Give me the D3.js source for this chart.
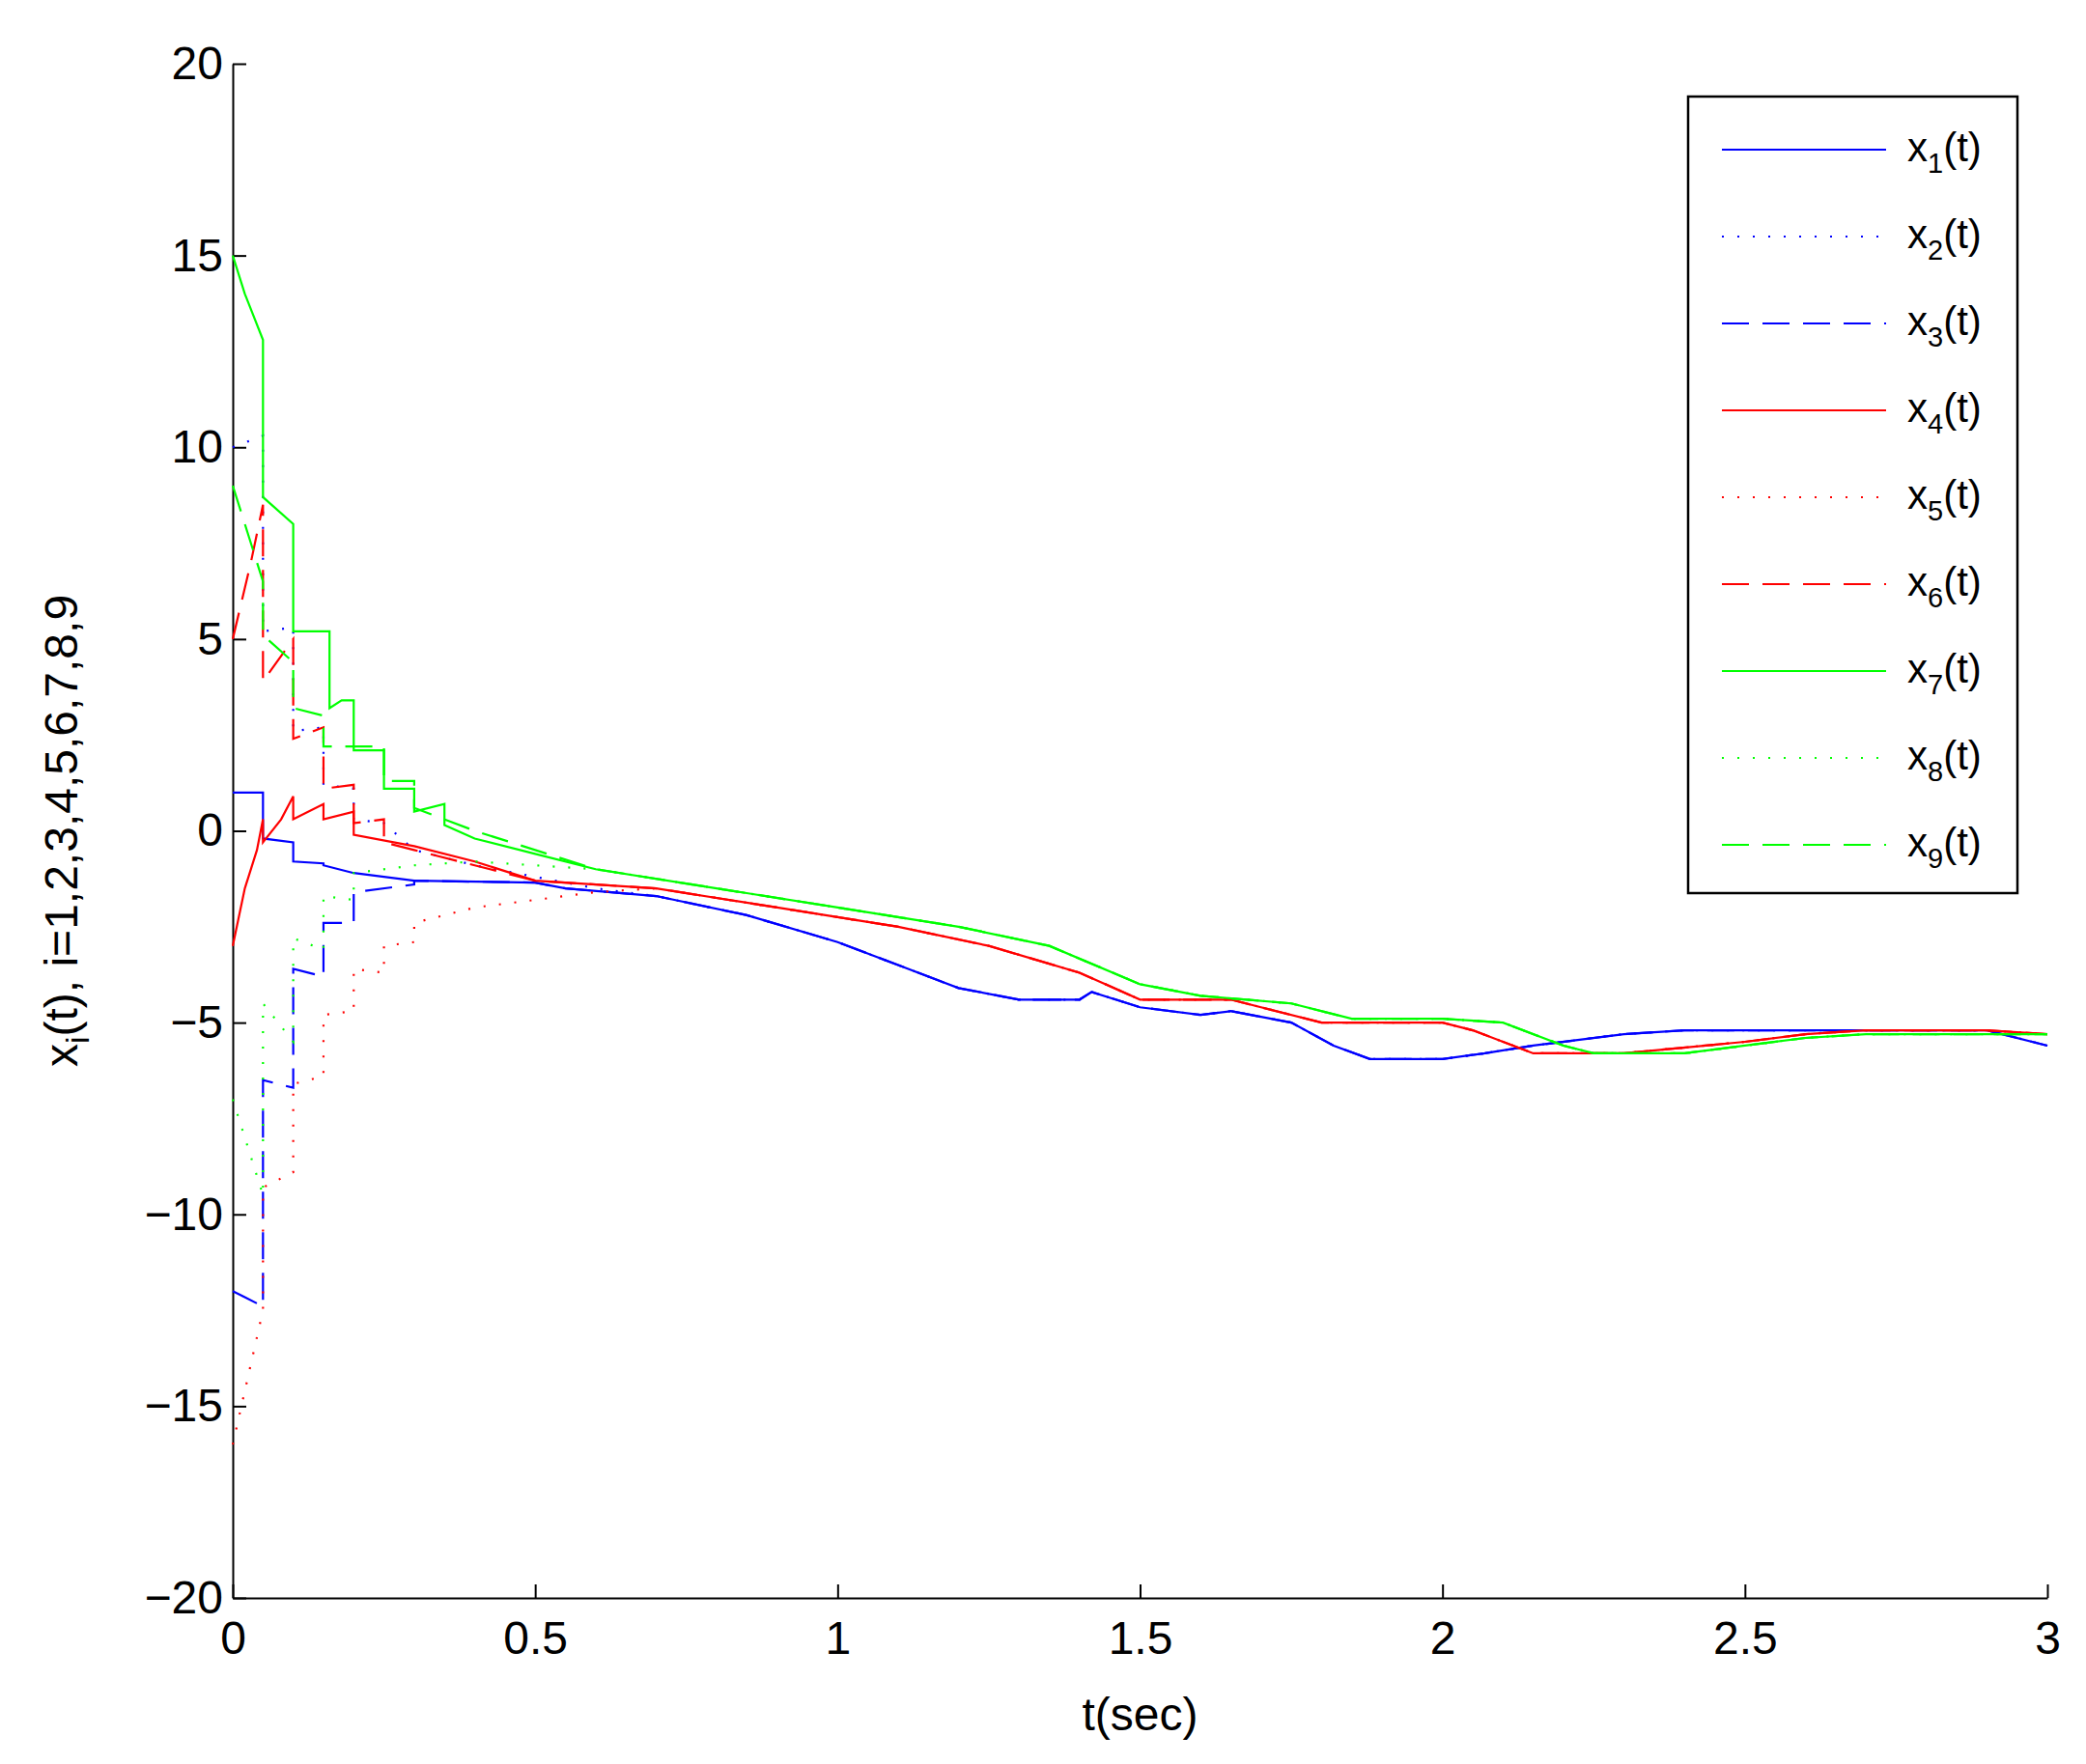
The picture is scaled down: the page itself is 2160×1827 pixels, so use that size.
<!DOCTYPE html>
<html><head><meta charset="utf-8">
<script src="https://cdn.jsdelivr.net/npm/d3@7"></script>
<style>body{margin:0;background:#fff}text{font-family:"Liberation Sans",Arial,sans-serif}</style>
</head><body>
<script>
// [t, x] pairs; repeated t gives the vertical jumps
var blueTail = [[0.3,-1.3],[0.5,-1.35],[0.55,-1.5],[0.7,-1.7],[0.85,-2.2],[1.0,-2.9],[1.1,-3.5],[1.2,-4.1],[1.3,-4.4],[1.4,-4.4],[1.42,-4.2],[1.5,-4.6],[1.6,-4.8],[1.65,-4.7],[1.75,-5.0],[1.82,-5.6],[1.88,-5.95],[2.0,-5.95],[2.07,-5.8],[2.15,-5.6],[2.3,-5.3],[2.4,-5.2],[2.9,-5.2],[3.0,-5.6]];
var redTail = [[0.5,-1.3],[0.7,-1.5],[0.9,-2.0],[1.1,-2.5],[1.25,-3.0],[1.4,-3.7],[1.5,-4.4],[1.65,-4.4],[1.7,-4.6],[1.8,-5.0],[2.0,-5.0],[2.05,-5.2],[2.15,-5.8],[2.3,-5.8],[2.5,-5.5],[2.6,-5.3],[2.7,-5.2],[2.9,-5.2],[3.0,-5.3]];
var greenTail = [[0.6,-1.0],[0.8,-1.5],[1.0,-2.0],[1.2,-2.5],[1.35,-3.0],[1.5,-4.0],[1.6,-4.3],[1.75,-4.5],[1.85,-4.9],[2.0,-4.9],[2.1,-5.0],[2.2,-5.6],[2.25,-5.8],[2.4,-5.8],[2.5,-5.6],[2.6,-5.4],[2.7,-5.3],[3.0,-5.3]];

var x1 = [[0,1],[0.05,1],[0.05,-0.2],[0.1,-0.3],[0.1,-0.8],[0.15,-0.85],[0.15,-0.9],[0.2,-1.1],[0.25,-1.2]].concat(blueTail);
var x2 = [[0,10],[0.05,10.3],[0.05,5.2],[0.1,5.3],[0.1,2.6],[0.15,2.7],[0.15,1.2],[0.2,1.1],[0.2,0.3],[0.25,0.2],[0.3,-0.5],[0.4,-0.9],[0.5,-1.2],[0.6,-1.5]].concat(blueTail.slice(3));
var x3 = [[0,-12],[0.05,-12.4],[0.05,-6.5],[0.1,-6.7],[0.1,-3.6],[0.15,-3.8],[0.15,-2.4],[0.2,-2.4],[0.2,-1.6],[0.3,-1.4]].concat(blueTail);
var x4 = [[0,-3],[0.02,-1.5],[0.04,-0.5],[0.05,0.3],[0.05,-0.3],[0.08,0.3],[0.1,0.9],[0.1,0.3],[0.15,0.7],[0.15,0.3],[0.2,0.5],[0.2,-0.1],[0.3,-0.4],[0.4,-0.8]].concat(redTail);
var x5 = [[0,-16],[0.05,-12.5],[0.05,-9.3],[0.1,-8.9],[0.1,-6.6],[0.15,-6.4],[0.15,-4.8],[0.2,-4.7],[0.2,-3.6],[0.25,-3.7],[0.25,-3.0],[0.3,-2.9],[0.3,-2.4],[0.4,-2.0],[0.5,-1.8],[0.6,-1.6],[0.7,-1.5]].concat(redTail.slice(2));
var x6 = [[0,5],[0.03,7],[0.05,8.5],[0.05,3.9],[0.1,5.0],[0.1,2.4],[0.15,2.7],[0.15,1.1],[0.2,1.2],[0.2,0.2],[0.25,0.3],[0.25,-0.3],[0.3,-0.5],[0.4,-0.9]].concat(redTail);
var x7 = [[0,15],[0.02,14],[0.05,12.8],[0.05,8.7],[0.1,8.0],[0.1,5.2],[0.16,5.2],[0.16,3.2],[0.18,3.4],[0.2,3.4],[0.2,2.1],[0.25,2.1],[0.25,1.1],[0.3,1.1],[0.3,0.5],[0.35,0.7],[0.35,0.15],[0.4,-0.2],[0.5,-0.6]].concat(greenTail);
var x8 = [[0,-7],[0.03,-8.5],[0.05,-9.5],[0.05,-4.5],[0.1,-5.5],[0.1,-2.8],[0.15,-3.1],[0.15,-1.7],[0.2,-1.8],[0.2,-1.1],[0.3,-0.9],[0.4,-0.8],[0.5,-0.9]].concat(greenTail);
var x9 = [[0,9],[0.02,8],[0.05,6.5],[0.05,5.1],[0.1,4.4],[0.1,3.2],[0.15,3.0],[0.15,2.2],[0.25,2.2],[0.25,1.3],[0.3,1.3],[0.3,0.6],[0.4,0.0],[0.5,-0.5]].concat(greenTail);

var seriesNames = ["x1","x2","x3","x4","x5","x6","x7","x8","x9"];
var seriesData = [x1,x2,x3,x4,x5,x6,x7,x8,x9];
var colors = ["#0000ff","#0000ff","#0000ff","#ff0000","#ff0000","#ff0000","#00ff00","#00ff00","#00ff00"];
var dashes = [null,"2,14",  "28,14", null,"2,14","28,14", null,"2,14","28,14"];
var xTicks = [0,0.5,1,1.5,2,2.5,3];
var yTicks = [-20,-15,-10,-5,0,5,10,15,20];

var W = 2160, H = 1827, L = 241, R = 2120, T = 66, B = 1655;
var svg = d3.select("body").append("svg").attr("width", W).attr("height", H);
var x = d3.scaleLinear().domain([0,3]).range([L,R]);
var y = d3.scaleLinear().domain([-20,20]).range([B,T]);

svg.append("g").attr("transform","translate(0,"+B+")")
  .call(d3.axisBottom(x).tickValues(xTicks).tickSizeInner(-14).tickSizeOuter(0).tickPadding(24).tickFormat(d3.format("")));
svg.append("g").attr("transform","translate("+L+",0)")
  .call(d3.axisLeft(y).tickValues(yTicks).tickSizeInner(-14).tickSizeOuter(0).tickPadding(10).tickFormat(function(d){return d<0?"\u2212"+(-d):d;}));
svg.selectAll(".domain").attr("stroke","#000").attr("stroke-width",2);
svg.selectAll(".tick line").attr("stroke","#000").attr("stroke-width",2);
svg.selectAll(".tick text").attr("font-size",48).attr("fill","#000");

var line = d3.line().x(function(d){return x(d[0]);}).y(function(d){return y(d[1]);});
svg.append("g").selectAll("path").data(seriesData).enter().append("path")
  .attr("d", line).attr("fill","none")
  .attr("stroke", function(d,i){return colors[i];})
  .attr("stroke-width", 2.2)
  .attr("stroke-dasharray", function(d,i){return dashes[i];});

svg.append("text").attr("x",(L+R)/2).attr("y",1792).attr("text-anchor","middle").attr("font-size",48).text("t(sec)");
var yl = svg.append("text").attr("transform","translate(80,"+((T+B)/2)+") rotate(-90)").attr("text-anchor","middle").attr("font-size",48);
yl.append("tspan").text("x");
yl.append("tspan").attr("font-size",34).attr("dy",12).text("i");
yl.append("tspan").attr("dy",-12).text("(t), i=1,2,3,4,5,6,7,8,9");

var lg = svg.append("g");
lg.append("rect").attr("x",1748).attr("y",100).attr("width",341).attr("height",825).attr("fill","#fff").attr("stroke","#000").attr("stroke-width",2.5);
var items = lg.selectAll("g.item").data(seriesNames).enter().append("g")
  .attr("transform", function(d,i){return "translate(0,"+(155+90*i)+")";});
items.append("line").attr("x1",1783).attr("x2",1953).attr("y1",0).attr("y2",0)
  .attr("stroke", function(d,i){return colors[i];}).attr("stroke-width",2.2)
  .attr("stroke-dasharray", function(d,i){return dashes[i];});
var it = items.append("text").attr("x",1975).attr("y",12).attr("font-size",42);
it.append("tspan").text("x");
it.append("tspan").attr("font-size",29).attr("dy",12).text(function(d,i){return i+1;});
it.append("tspan").attr("dy",-12).text("(t)");
</script>
</body></html>
